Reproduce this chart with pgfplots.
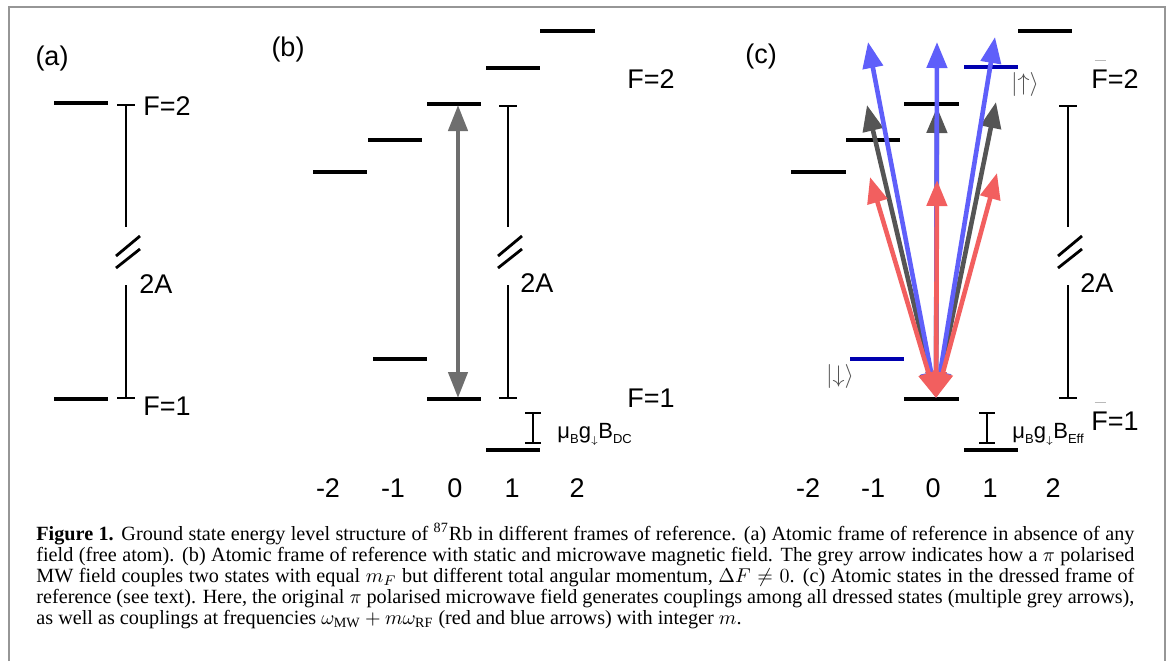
\documentclass[border=0pt]{standalone}
\usepackage{pgfplots}
\pgfplotsset{compat=1.18}
\usetikzlibrary{arrows.meta}
\usepackage{graphicx}
\usepackage{fontspec}
\setmainfont{Liberation Serif}
\newfontfamily\arial{Liberation Sans}
\definecolor{lvlblue}{RGB}{0,0,175}
\definecolor{arrblue}{RGB}{95,95,250}
\definecolor{arrred}{RGB}{242,95,95}
\definecolor{arrgrey}{RGB}{85,85,85}
\definecolor{mwgrey}{RGB}{110,110,110}
\definecolor{framegrey}{RGB}{150,150,150}
\definecolor{ketgrey}{RGB}{80,80,80}
\newcommand\labfont{\arial\fontsize{13.5}{15}\selectfont}
\newcommand\capfont{\fontsize{10.1}{10.5}\selectfont}
\newcommand\fbar{\makebox[0pt][l]{\hspace{0.12em}\textcolor{gray!55}{\rule[1.0em]{0.42em}{0.5pt}}}}
\newcommand\mub[1]{\fontsize{11}{12}\selectfont μ\raisebox{-0.45ex}{\fontsize{6.5}{7}\selectfont B}g\raisebox{-0.45ex}{$\scriptscriptstyle\downarrow$}B\raisebox{-0.45ex}{\fontsize{6.5}{7}\selectfont #1}}
\tikzset{
  lvl/.style={black, line width=2.3pt, mark=none},
  brk/.style={black, line width=1.4pt, mark=none},
  lab/.style={font=\labfont, inner sep=0pt},
  captext/.style={font=\capfont, inner sep=0pt, anchor=base west},
  arr/.style={line width=2.3pt, mark=none, {Triangle[length=13pt,width=10pt]}-{Triangle[length=13pt,width=10pt]}},
}
\begin{document}
\begin{tikzpicture}
\begin{axis}[
  scale only axis, width=585.5pt, height=330.5pt,
  xmin=0, xmax=1171, ymin=0, ymax=661, y dir=reverse,
  hide axis, clip=false,
]
% frame
\addplot[framegrey, line width=1pt, mark=none] coordinates {(9,661) (9,7) (1165,7) (1165,661)};

% ---------- panel (a)
\addplot[lvl] coordinates {(54,103) (108,103)};
\addplot[lvl] coordinates {(54,399) (108,399)};
\addplot[brk] coordinates {(117,105) (135,105)};
\addplot[brk] coordinates {(126,105) (126,227)};
\addplot[brk] coordinates {(116,256) (140,236)};
\addplot[brk] coordinates {(116,268) (140,249)};
\addplot[brk] coordinates {(126,285) (126,398)};
\addplot[brk] coordinates {(117,398) (135,398)};
\node[lab, anchor=center] at (52,59) {(a)};
\node[lab, anchor=base west] at (143,115) {F=2};
\node[lab, anchor=base west] at (143,415) {F=1};
\node[lab, anchor=base west] at (139,293) {2A};

% ---------- panel (b)
\addplot[lvl] coordinates {(313,172) (367,172)};
\addplot[lvl] coordinates {(368,140) (422,140)};
\addplot[lvl] coordinates {(427,104) (481,104)};
\addplot[lvl] coordinates {(486,68) (540,68)};
\addplot[lvl] coordinates {(540,31) (595,31)};
\addplot[lvl] coordinates {(373,359) (427,359)};
\addplot[lvl] coordinates {(427,399) (481,399)};
\addplot[lvl] coordinates {(486,450) (540,450)};
\addplot[brk] coordinates {(499,106) (517,106)};
\addplot[brk] coordinates {(508,106) (508,227)};
\addplot[brk] coordinates {(498,256) (522,236)};
\addplot[brk] coordinates {(498,268) (522,249)};
\addplot[brk] coordinates {(508,285) (508,398)};
\addplot[brk] coordinates {(499,398) (517,398)};
\addplot[brk] coordinates {(525,413) (541,413)};
\addplot[brk] coordinates {(533,413) (533,443)};
\addplot[brk] coordinates {(525,443) (541,443)};
\addplot[mwgrey, line width=2.2pt, mark=none, {Triangle[length=13pt,width=9.5pt]}-{Triangle[length=13pt,width=9.5pt]}] coordinates {(458,105) (458,398)};
\node[lab, anchor=center] at (288,50) {(b)};
\node[lab, anchor=base west] at (627,88) {F=2};
\node[lab, anchor=base west] at (627,407) {F=1};
\node[lab, anchor=base west] at (520,292) {2A};
\node[lab, anchor=base west] at (557,438) {\mub{DC}};
\node[lab, anchor=base] at (328,497) {-2};
\node[lab, anchor=base] at (393,497) {-1};
\node[lab, anchor=base] at (455,497) {0};
\node[lab, anchor=base] at (512,497) {1};
\node[lab, anchor=base] at (577,497) {2};

% ---------- panel (c)
\addplot[lvl] coordinates {(791,172) (846,172)};
\addplot[lvl] coordinates {(846,140) (900,140)};
\addplot[lvl] coordinates {(904,104) (959,104)};
\addplot[lvlblue, line width=2.3pt, mark=none] coordinates {(964,67) (1018,67)};
\addplot[lvl] coordinates {(1018,31) (1072,31)};
\addplot[lvlblue, line width=2.3pt, mark=none] coordinates {(850,359) (904,359)};
\addplot[lvl] coordinates {(904,399) (959,399)};
\addplot[lvl] coordinates {(964,450) (1018,450)};
\addplot[brk] coordinates {(1059,106) (1077,106)};
\addplot[brk] coordinates {(1068,106) (1068,227)};
\addplot[brk] coordinates {(1058,256) (1082,236)};
\addplot[brk] coordinates {(1058,268) (1082,249)};
\addplot[brk] coordinates {(1068,285) (1068,398)};
\addplot[brk] coordinates {(1059,398) (1077,398)};
\addplot[brk] coordinates {(979,413) (995,413)};
\addplot[brk] coordinates {(987,413) (987,443)};
\addplot[brk] coordinates {(979,443) (995,443)};
% grey couplings
\addplot[arr, arrgrey] coordinates {(936,398) (867,105)};
\addplot[arr, arrgrey] coordinates {(936,398) (937,107)};
\addplot[arr, arrgrey] coordinates {(936,398) (996,102)};
% blue couplings
\addplot[arr, arrblue] coordinates {(936,398) (868,42)};
\addplot[arr, arrblue] coordinates {(936,398) (937,42)};
\addplot[arr, arrblue] coordinates {(936,398) (995,37)};
% red couplings
\addplot[arr, arrred] coordinates {(936,398) (870,177)};
\addplot[arr, arrred] coordinates {(936,398) (937,180)};
\addplot[arr, arrred] coordinates {(936,398) (997,173)};
\node[lab, anchor=center] at (761,57) {(c)};
\node[lab, anchor=base west] at (1091,88) {\fbar F=2};
\node[lab, anchor=base west] at (1091,430) {\fbar F=1};
\node[lab, anchor=base west] at (1080,292) {2A};
\node[lab, anchor=base west] at (1012,438) {\mub{Eff}};
\node[inner sep=0pt, text=ketgrey, anchor=center, font=\fontsize{13}{14}\selectfont] at (1025,84) {$|{\uparrow}\rangle$};
\node[inner sep=0pt, text=ketgrey, anchor=center, font=\fontsize{13}{14}\selectfont] at (840,376) {$|{\downarrow}\rangle$};
\node[lab, anchor=base] at (808,497) {-2};
\node[lab, anchor=base] at (873,497) {-1};
\node[lab, anchor=base] at (933,497) {0};
\node[lab, anchor=base] at (990,497) {1};
\node[lab, anchor=base] at (1053,497) {2};

% ---------- caption
\node[captext] at (36,540) {\makebox[549pt][s]{\textbf{Figure 1.} Ground state energy level structure of \textsuperscript{87}Rb in different frames of reference. (a) Atomic frame of reference in absence of any}};
\node[captext] at (36,561) {\makebox[549pt][s]{field (free atom). (b) Atomic frame of reference with static and microwave magnetic field. The grey arrow indicates how a $\pi$ polarised}};
\node[captext] at (36,582) {\makebox[549pt][s]{MW field couples two states with equal $m_F$ but different total angular momentum, $\Delta F\neq 0$. (c) Atomic states in the dressed frame of}};
\node[captext] at (36,603) {\makebox[549pt][s]{reference (see text). Here, the original $\pi$ polarised microwave field generates couplings among all dressed states (multiple grey arrows),}};
\node[captext] at (36,624) {as well as couplings at frequencies $\omega_{\mathrm{MW}} + m\omega_{\mathrm{RF}}$ (red and blue arrows) with integer $m$.};
\end{axis}
\pgfresetboundingbox
\path (current axis.south west) rectangle (current axis.north east);
\end{tikzpicture}
\end{document}
